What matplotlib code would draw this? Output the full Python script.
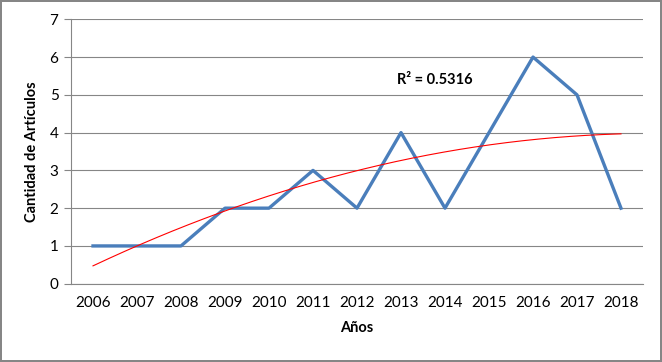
import numpy as np
import matplotlib
matplotlib.use("Agg")
import matplotlib.pyplot as plt

years = ["2006", "2007", "2008", "2009", "2010", "2011", "2012",
         "2013", "2014", "2015", "2016", "2017", "2018"]
articulos = [1, 1, 1, 2, 2, 3, 2, 4, 2, 4, 6, 5, 2]
r2_label = "R² = 0.5316"

plt.rcParams['font.family'] = ['Lato', 'DejaVu Sans']

x = np.arange(len(years))

# tendencia polinomica de orden 2 (como en Excel)
coef = np.polyfit(x + 1, articulos, 2)
xs = np.linspace(0, len(years) - 1, 200)
trend = np.polyval(coef, xs + 1)

fig = plt.figure(figsize=(6.62, 3.62), dpi=100)
fig.patch.set_edgecolor("#868686")
fig.patch.set_linewidth(1.5)
ax = fig.add_axes([71/662, 1 - 283.7/362, (643-71)/662, (283.7-19.3)/362])

ax.plot(x, articulos, color="#4a7ebb", lw=2.4, zorder=3)
ax.plot(xs, trend, color="#ff0000", lw=0.8, zorder=4)

ax.set_xlim(-0.5, len(years) - 0.5)
ax.set_ylim(0, 7)
ax.set_yticks(range(8))
ax.set_xticks(x)
ax.set_xticklabels(years)
ax.tick_params(axis="x", length=0, pad=9, labelsize=11)
ax.tick_params(axis="y", length=5, color="#868686", width=0.8, pad=4, labelsize=11)
ax.grid(axis="y", color="#868686", lw=0.8)
ax.set_axisbelow(True)
for s in ["top", "right"]:
    ax.spines[s].set_visible(False)
ax.spines["left"].set_color("#868686")
ax.spines["bottom"].set_color("#868686")
ax.spines["left"].set_linewidth(0.8)
ax.spines["bottom"].set_linewidth(0.8)

ax.set_xlabel("Años", fontweight="bold", fontsize=10.5, labelpad=8)
ax.set_ylabel("Cantidad de Artículos", fontweight="bold", fontsize=10.5, labelpad=8)

ax.text(6.9, 5.39, r2_label, fontweight="bold", fontsize=10.5, va="center", ha="left")

fig.savefig("out.png", dpi=100)
